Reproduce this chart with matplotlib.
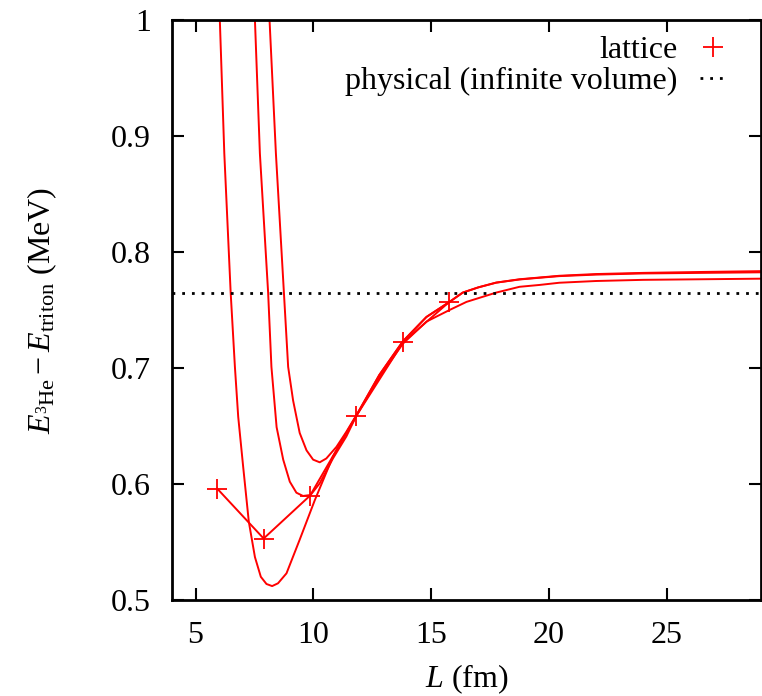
import numpy as np
import matplotlib.pyplot as plt
from matplotlib.lines import Line2D
from matplotlib.ticker import FuncFormatter

plt.rcParams['font.family'] = ['Liberation Serif', 'DejaVu Serif']
plt.rcParams['mathtext.fontset'] = 'custom'
plt.rcParams['mathtext.rm'] = 'Liberation Serif'
plt.rcParams['mathtext.it'] = 'Liberation Serif:italic'

# lattice results
L_lat = [5.92, 7.89, 9.86, 11.83, 13.80, 15.77]
E_lat = [0.596, 0.553, 0.590, 0.659, 0.722, 0.757]

E_phys = 0.7645

# finite-volume fit curves
L_a = [6.03, 6.22, 6.49, 6.67, 6.81, 7.02, 7.26, 7.52, 7.77, 8.01, 8.25, 8.5,
       8.86, 9.42, 10.06, 10.83, 11.4, 11.83, 12.8, 13.8, 14.8, 15.78, 16.5,
       17.76, 18.75, 19.6, 20.44, 22.0, 24.0, 26.5, 29.0]
E_a = [1.0, 0.885, 0.765, 0.701, 0.658, 0.615, 0.5675, 0.537, 0.520, 0.5138, 0.512, 0.5144,
       0.523, 0.552, 0.586, 0.6236, 0.644, 0.659, 0.692, 0.721, 0.740, 0.750, 0.757,
       0.765, 0.770, 0.7716, 0.7735, 0.775, 0.776, 0.7765, 0.777]

L_b = [7.52, 7.73, 8.08, 8.22, 8.44, 8.72, 9.0, 9.28, 9.56, 9.88, 10.27, 10.83,
       11.4, 11.83, 12.8, 13.8, 14.8, 15.78, 16.34, 17.0, 17.76, 18.75, 19.6,
       20.44, 22.0, 24.0, 26.5, 29.0]
E_b = [1.0, 0.885, 0.765, 0.701, 0.649, 0.621, 0.602, 0.5925, 0.5897, 0.5905, 0.6006, 0.622,
       0.641, 0.659, 0.694, 0.723, 0.744, 0.757, 0.765, 0.7695, 0.7736, 0.7765, 0.778,
       0.7795, 0.781, 0.782, 0.7828, 0.7835]

L_c = [8.14, 8.41, 8.75, 8.93, 9.14, 9.42, 9.71, 9.99, 10.27, 10.55, 10.98, 11.4,
       11.83, 12.8, 13.8, 14.8, 15.78, 16.34, 17.0, 17.76, 18.75, 19.6, 20.44,
       22.0, 24.0, 26.5, 29.0]
E_c = [1.0, 0.885, 0.765, 0.701, 0.672, 0.644, 0.629, 0.621, 0.6187, 0.622, 0.632, 0.645,
       0.6595, 0.694, 0.723, 0.744, 0.757, 0.765, 0.7695, 0.7736, 0.7763, 0.7778, 0.7792,
       0.7805, 0.7815, 0.782, 0.7825]

x_ticks = [5, 10, 15, 20, 25]
y_ticks = [0.5, 0.6, 0.7, 0.8, 0.9, 1.0]

fs = 23

fig = plt.figure(figsize=(7.62, 6.96), dpi=100)
ax = fig.add_axes([172/762, 1 - 600/696, 589/762, 580/696])

for xs, ys in [(L_a, E_a), (L_b, E_b), (L_c, E_c)]:
    ax.plot(xs, ys, color='red', lw=1.4, solid_joinstyle='round')

ax.plot(L_lat, E_lat, color='red', lw=1.4, marker='+', ms=14, mew=1.3)
ax.axhline(E_phys, color='black', lw=2.0, linestyle=(0, (1, 2.5)))

ax.set_xlim(4, 29)
ax.set_ylim(0.5, 1.0)
ax.set_xticks(x_ticks)
ax.set_yticks(y_ticks)
ax.yaxis.set_major_formatter(FuncFormatter(lambda v, p: '%g' % v))
ax.tick_params(direction='in', length=8.6, width=1.5, labelsize=fs, pad=15,
               top=True, right=True)
for s in ax.spines.values():
    s.set_linewidth(2.0)

ax.set_xlabel(r'$L$ (fm)', fontsize=fs)
ax.set_ylabel(r'$E_{^{3}\mathrm{He}} - E_{\mathrm{triton}}$ (MeV)', fontsize=fs)
ax.xaxis.set_label_coords(0.5, -0.107)
ax.yaxis.set_label_coords(-0.192, 0.5)

handles = [Line2D([], [], color='red', marker='+', ms=14, mew=1.3, linestyle='none'),
           Line2D([], [], color='black', lw=2.0, linestyle=(0, (1, 2.5)))]
ax.legend(handles, ['lattice', 'physical (infinite volume)'], loc='upper right',
          bbox_to_anchor=(727/762, 1 - 36/696), bbox_transform=fig.transFigure,
          frameon=False, markerfirst=False, fontsize=fs, handlelength=0.85,
          handletextpad=0.7, labelspacing=0.05, borderpad=0, borderaxespad=0)

fig.savefig('out.png', dpi=100)
